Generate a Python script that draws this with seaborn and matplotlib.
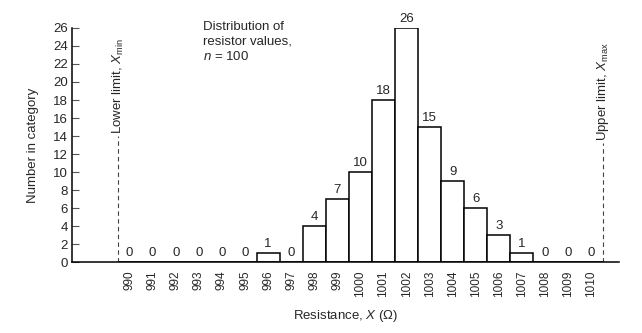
import numpy as np
import pandas as pd
import matplotlib
matplotlib.use("Agg")
import matplotlib.pyplot as plt
import seaborn as sns

# Resistor measurement histogram: nominal 1000 ohm, n = 100
resistance = [990, 991, 992, 993, 994, 995, 996, 997, 998, 999, 1000,
              1001, 1002, 1003, 1004, 1005, 1006, 1007, 1008, 1009, 1010]
counts = [0, 0, 0, 0, 0, 0, 1, 0, 4, 7, 10,
          18, 26, 15, 9, 6, 3, 1, 0, 0, 0]
y_ticks = list(range(0, 27, 2))
lower_limit = 989.5
upper_limit = 1010.5

sns.set_theme(style="white")
plt.rcParams["font.family"] = ["Liberation Sans", "DejaVu Sans"]
plt.rcParams["mathtext.fontset"] = "custom"
plt.rcParams["mathtext.rm"] = "Liberation Sans"
plt.rcParams["mathtext.it"] = "Liberation Sans:italic"

df = pd.DataFrame({"resistance": resistance, "count": counts})

fig = plt.figure(figsize=(6.42, 3.33), dpi=100)
ax = fig.add_axes([0.112, 0.213, 0.852, 0.703])

sns.barplot(data=df, x="resistance", y="count", native_scale=True, width=1.0,
            color="white", edgecolor="black", linewidth=1.1, ax=ax,
            errorbar=None, saturation=1)

# value labels above each bin
for x, c in zip(resistance, counts):
    ax.text(x, c + 0.35, str(c), ha="center", va="bottom", fontsize=9.5,
            clip_on=False)

ax.set_xlim(987.5, 1011.2)
ax.set_ylim(0, 26)

# labels at bin centres, small tick marks at bin edges
ax.set_xticks(resistance)
ax.set_xticklabels([str(r) for r in resistance], rotation=90, fontsize=8.5)
edges = np.arange(988.5, 1010.6, 1.0)
ax.set_xticks(edges, minor=True)
ax.tick_params(axis="x", which="major", length=0, pad=6)
ax.tick_params(axis="x", which="minor", direction="in", length=4,
               width=0.8, color="black")

ax.set_yticks(y_ticks)
ax.set_yticklabels([str(v) for v in y_ticks], fontsize=9.5)
ax.tick_params(axis="y", which="major", direction="in", length=5,
               width=0.8, color="#555555", pad=3, left=True)

for side in ("top", "right"):
    ax.spines[side].set_visible(False)
for side in ("left", "bottom"):
    ax.spines[side].set_color("black")
    ax.spines[side].set_linewidth(1.1)

# tolerance limits
ax.plot([lower_limit, lower_limit], [0, 14.0], ls=(0, (4, 3)), color="#444444",
        lw=0.8)
ax.text(lower_limit, 14.2, r"Lower limit, $X_{\rm min}$", rotation=90,
        ha="center", va="bottom", fontsize=9.5)
ax.plot([upper_limit, upper_limit], [0, 13.2], ls=(0, (4, 3)), color="#444444",
        lw=0.8)
ax.text(upper_limit, 13.4, r"Upper limit, $X_{\rm max}$", rotation=90,
        ha="center", va="bottom", fontsize=9.5, clip_on=False)

ax.text(993.2, 26.8, "Distribution of\nresistor values,\n$n$ = 100",
        ha="left", va="top", fontsize=9.5, linespacing=1.3)

ax.set_xlabel(r"Resistance, $X$ ($\Omega$)", fontsize=9.5, labelpad=8)
ax.set_ylabel("Number in category", fontsize=9.5, labelpad=10)

fig.savefig("out.png", dpi=100)
